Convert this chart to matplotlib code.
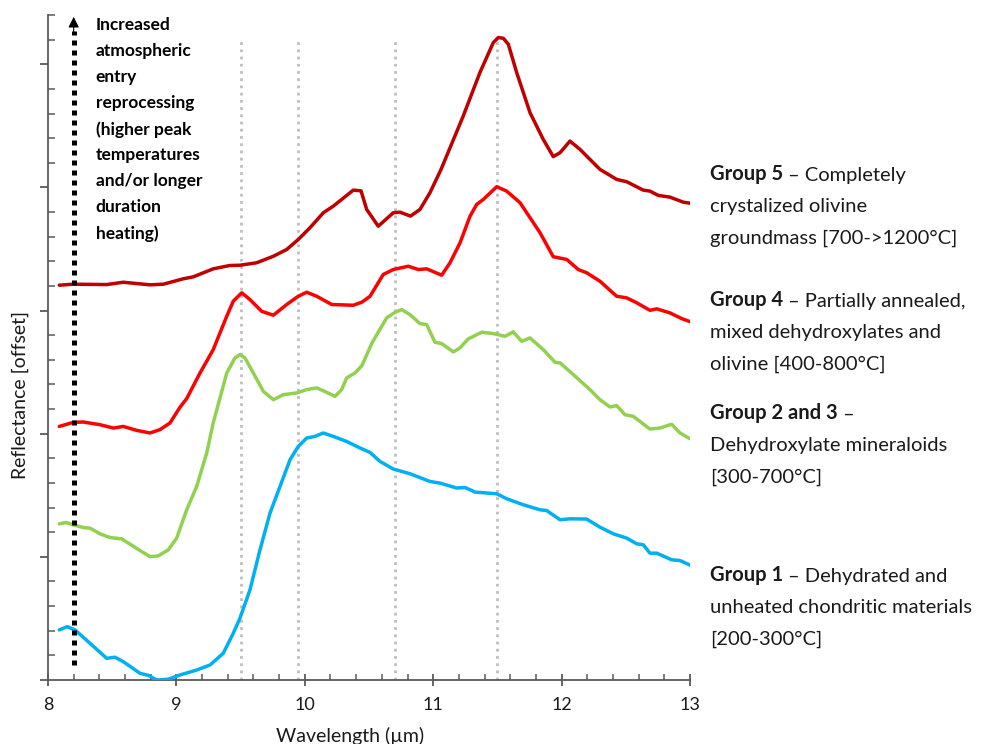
import matplotlib
matplotlib.use("Agg")
import matplotlib.pyplot as plt
from matplotlib.ticker import MultipleLocator

plt.rcParams['font.family'] = ['Lato', 'DejaVu Sans']

# ---------------- data (wavelength in µm, offset reflectance) ----------------
g5_x = [8.088, 8.197, 8.457, 8.586, 8.794, 8.898, 9.054, 9.132, 9.287, 9.417, 9.495, 9.625,
        9.755, 9.859, 9.949, 10.040, 10.144, 10.222, 10.378, 10.438, 10.482, 10.572, 10.689,
        10.741, 10.823, 10.897, 10.975, 11.061, 11.234, 11.364, 11.468, 11.507, 11.546, 11.585,
        11.650, 11.754, 11.857, 11.935, 11.988, 12.065, 12.143, 12.299, 12.429, 12.507, 12.636,
        12.688, 12.753, 12.844, 12.948, 13.013]
g5_y = [3.206, 3.214, 3.211, 3.230, 3.209, 3.214, 3.258, 3.274, 3.339, 3.366, 3.368, 3.388,
        3.441, 3.496, 3.577, 3.672, 3.794, 3.848, 3.978, 3.972, 3.821, 3.685, 3.794,
        3.799, 3.767, 3.821, 3.957, 4.146, 4.580, 4.933, 5.176, 5.217, 5.211, 5.163,
        4.933, 4.607, 4.390, 4.250, 4.282, 4.376, 4.309, 4.146, 4.065, 4.046, 3.978,
        3.970, 3.935, 3.921, 3.880, 3.870]

g4_x = [8.088, 8.197, 8.275, 8.405, 8.509, 8.586, 8.691, 8.794, 8.872, 8.950, 9.028, 9.080,
        9.184, 9.287, 9.392, 9.443, 9.509, 9.573, 9.664, 9.755, 9.859, 9.949, 10.015, 10.093,
        10.210, 10.378, 10.446, 10.508, 10.611, 10.689, 10.806, 10.884, 10.949, 11.066, 11.131,
        11.209, 11.287, 11.339, 11.390, 11.495, 11.572, 11.676, 11.754, 11.832, 11.935, 12.040,
        12.130, 12.195, 12.299, 12.429, 12.507, 12.585, 12.688, 12.741, 12.844, 12.935, 13.013]
g4_y = [2.059, 2.092, 2.095, 2.073, 2.046, 2.059, 2.027, 2.006, 2.033, 2.087, 2.215, 2.285,
        2.493, 2.683, 2.954, 3.076, 3.144, 3.089, 2.994, 2.962, 3.049, 3.116, 3.149, 3.116,
        3.049, 3.043, 3.069, 3.116, 3.293, 3.333, 3.360, 3.333, 3.339, 3.287, 3.388,
        3.550, 3.767, 3.862, 3.902, 4.006, 3.970, 3.876, 3.754, 3.632, 3.437, 3.415,
        3.333, 3.307, 3.238, 3.116, 3.103, 3.063, 3.002, 3.014, 2.981, 2.935, 2.905]

g23_x = [8.088, 8.140, 8.197, 8.275, 8.327, 8.405, 8.483, 8.574, 8.639, 8.717, 8.794, 8.859,
         8.937, 9.002, 9.080, 9.158, 9.236, 9.287, 9.340, 9.392, 9.456, 9.495, 9.534, 9.599,
         9.677, 9.755, 9.833, 9.937, 10.015, 10.093, 10.171, 10.235, 10.287, 10.326, 10.391,
         10.445, 10.523, 10.638, 10.703, 10.755, 10.819, 10.897, 10.949, 11.014, 11.066, 11.157,
         11.209, 11.273, 11.378, 11.468, 11.559, 11.624, 11.689, 11.754, 11.857, 11.949, 11.988,
         12.091, 12.221, 12.299, 12.377, 12.429, 12.494, 12.558, 12.688, 12.766, 12.857, 12.922,
         13.000]
g23_y = [1.268, 1.279, 1.260, 1.238, 1.233, 1.187, 1.157, 1.146, 1.103, 1.051, 1.002, 1.008,
         1.057, 1.152, 1.382, 1.572, 1.843, 2.089, 2.293, 2.493, 2.615, 2.642, 2.615, 2.493,
         2.344, 2.276, 2.317, 2.331, 2.358, 2.372, 2.336, 2.303, 2.358, 2.453, 2.493,
         2.553, 2.737, 2.941, 2.986, 3.008, 2.967, 2.894, 2.886, 2.742, 2.732, 2.664,
         2.697, 2.770, 2.824, 2.813, 2.791, 2.827, 2.750, 2.778, 2.683, 2.580, 2.575,
         2.480, 2.358, 2.276, 2.217, 2.228, 2.154, 2.141, 2.038, 2.046, 2.077, 2.006,
         1.959]

g1_x = [8.088, 8.150, 8.210, 8.327, 8.457, 8.522, 8.586, 8.717, 8.781, 8.847, 8.937, 9.028,
        9.158, 9.262, 9.365, 9.443, 9.495, 9.573, 9.651, 9.729, 9.807, 9.885, 9.949, 10.015,
        10.079, 10.144, 10.222, 10.326, 10.430, 10.508, 10.586, 10.689, 10.819, 10.975, 11.053,
        11.183, 11.248, 11.326, 11.495, 11.572, 11.702, 11.832, 11.884, 11.988, 12.065, 12.195,
        12.299, 12.403, 12.507, 12.585, 12.636, 12.688, 12.741, 12.857, 12.922, 13.013]
g1_y = [0.407, 0.433, 0.407, 0.298, 0.176, 0.185, 0.149, 0.054, 0.038, 0.000, 0.006, 0.041,
        0.081, 0.122, 0.217, 0.380, 0.502, 0.732, 1.057, 1.355, 1.572, 1.789, 1.897, 1.965,
        1.978, 2.006, 1.978, 1.937, 1.884, 1.848, 1.775, 1.713, 1.675, 1.612, 1.599,
        1.559, 1.563, 1.526, 1.512, 1.472, 1.423, 1.382, 1.376, 1.301, 1.309, 1.307,
        1.241, 1.187, 1.152, 1.106, 1.098, 1.030, 1.030, 0.976, 0.970, 0.927]

ref_lines = [9.5, 9.95, 10.7, 11.5]
x_ticks = [8, 9, 10, 11, 12, 13]

annotation_lines = ["Increased", "atmospheric", "entry", "reprocessing", "(higher peak",
                    "temperatures", "and/or longer", "duration", "heating)"]

group_labels = [
    ("Group 5", " \u2013 Completely", ["crystalized olivine", "groundmass [700->1200\u00b0C]"]),
    ("Group 4", " \u2013 Partially annealed,", ["mixed dehydroxylates and", "olivine [400-800\u00b0C]"]),
    ("Group 2 and 3", " \u2013", ["Dehydroxylate mineraloids", "[300-700\u00b0C]"]),
    ("Group 1", " \u2013 Dehydrated and", ["unheated chondritic materials", "[200-300\u00b0C]"]),
]
label_rows_px = [174, 300, 413, 575]

# ---------------- figure ----------------
W, H = 987, 744
fig = plt.figure(figsize=(W / 100, H / 100), dpi=100)
ax = fig.add_axes([48 / W, 1 - 680 / H, (690 - 48) / W, (680 - 15) / H])

ax.set_xlim(8, 13)
ax.set_ylim(0, 5.4)

for xv in ref_lines:
    ax.plot([xv, xv], [0, 5.19], color='#BFBFBF', lw=2, linestyle=(0, (1, 1.6)), zorder=1)

for xs, ys, c in [(g1_x, g1_y, '#00B0F0'), (g23_x, g23_y, '#92D050'),
                  (g4_x, g4_y, '#FF0000'), (g5_x, g5_y, '#C00000')]:
    ax.plot(xs, ys, color=c, lw=2.5, zorder=3, solid_joinstyle='round',
            solid_capstyle='round')

# dotted arrow
ax.plot([8.2, 8.2], [0.12, 5.27], color='black', lw=3.6, linestyle=(0, (1, 1)),
        dash_capstyle='butt', zorder=4)
ax.annotate('', xy=(8.2, 5.385), xytext=(8.2, 5.26),
            arrowprops=dict(arrowstyle='-|>', color='black', lw=0.8, mutation_scale=16,
                            shrinkA=0, shrinkB=0), zorder=5)

for i, s in enumerate(annotation_lines):
    ypx = 26 + 26 * i
    ax.text(8.37, (680 - ypx) / 123, s, fontsize=12.5, fontweight='bold', color='black',
            va='center', ha='left')

# spines & ticks
for s in ['top', 'right']:
    ax.spines[s].set_visible(False)
for s in ['left', 'bottom']:
    ax.spines[s].set_color('#595959')
    ax.spines[s].set_linewidth(1.3)

ax.set_xticks(x_ticks)
ax.set_xticklabels([str(v) for v in x_ticks])
ax.xaxis.set_minor_locator(MultipleLocator(0.2))
ax.yaxis.set_major_locator(MultipleLocator(1))
ax.yaxis.set_minor_locator(MultipleLocator(0.2))
ax.set_yticklabels([])
ax.tick_params(axis='x', which='major', direction='inout', length=9, width=1.3,
               color='#595959', labelsize=13, pad=8, labelcolor='#1a1a1a')
ax.tick_params(axis='x', which='minor', direction='in', length=4.5, width=1.1, color='#595959')
ax.tick_params(axis='y', which='major', direction='out', length=6, width=1.3, color='#595959')
ax.tick_params(axis='y', which='minor', direction='in', length=5, width=1.1, color='#595959')

fig.text(350 / W, 1 - 736 / H, "Wavelength (\u00b5m)", fontsize=14, ha='center', va='center',
         color='#1a1a1a')
fig.text(20 / W, 1 - 395 / H, "Reflectance [offset]", fontsize=14, ha='center', va='center',
         rotation=90, color='#1a1a1a')

# right-hand group labels
FS = 14.5
for (bold, rest, more), row in zip(group_labels, label_rows_px):
    t = fig.text(710 / W, 1 - (row + 6) / H, bold, fontsize=FS, fontweight='bold',
                 ha='left', va='baseline', color='#1a1a1a')
    plt.annotate(rest, xy=(1, 0), xycoords=t, fontsize=FS, ha='left', va='bottom',
                 color='#1a1a1a', annotation_clip=False)
    for j, s in enumerate(more):
        fig.text(710 / W, 1 - (row + 6 + 32 * (j + 1)) / H, s, fontsize=FS,
                 ha='left', va='baseline', color='#1a1a1a')

fig.savefig('out.png', dpi=100)
